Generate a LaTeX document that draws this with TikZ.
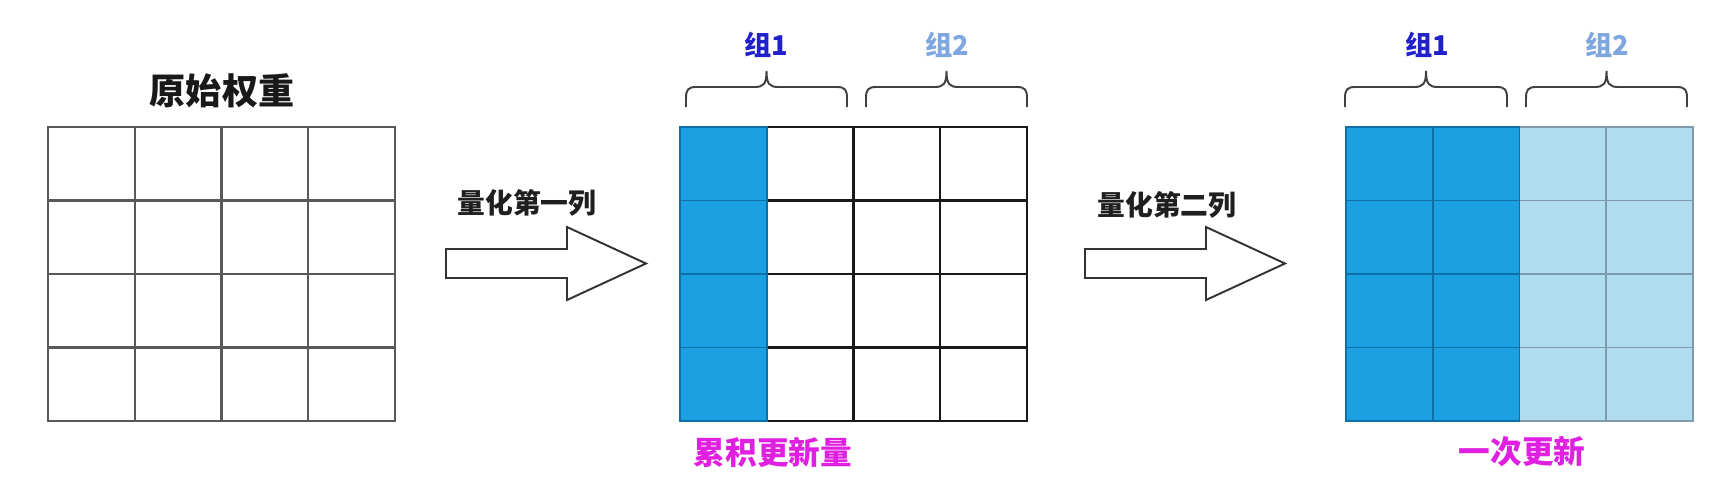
\documentclass[tikz,border=0pt]{standalone}
\usepackage{fontspec}
\setmainfont{Noto Sans CJK SC}
\usetikzlibrary{calc, math}

\definecolor{qblue}{HTML}{1BA1E2}
\definecolor{qbluedraw}{HTML}{0F6FA6}
\definecolor{qlight}{HTML}{B1DDF0}
\definecolor{qlightdraw}{HTML}{7F9AAB}
\definecolor{grponecol}{HTML}{2020CC}
\definecolor{grptwocol}{HTML}{7EA6E0}
\definecolor{notecol}{HTML}{E020E0}

\tikzset{
    cellgray/.style={draw=black!65, line width=1.3pt},
    cellblack/.style={draw=black!90, line width=1.2pt},
    celldone/.style={fill=qblue, draw=qbluedraw, line width=1.1pt},
    celllight/.style={fill=qlight, draw=qlightdraw, line width=1.1pt},
    blockarrow/.style={draw=black!80, line width=1.1pt, fill=white},
    grpbrace/.style={draw=black!75, line width=1.1pt},
    titlelabel/.style={font=\bfseries\fontsize{20.5}{23}\selectfont, text=black!90, inner sep=0pt},
    steplabel/.style={font=\bfseries\fontsize{15.8}{18}\selectfont, text=black!88, inner sep=0pt},
    grplabel/.style={font=\bfseries\fontsize{15.5}{18}\selectfont, inner sep=0pt},
    notelabel/.style={font=\bfseries\fontsize{18}{21}\selectfont, text=notecol, inner sep=0pt}
}

\begin{document}
\begin{tikzpicture}[x=0.02cm, y=-0.02cm]
                \useasboundingbox (0,0) rectangle (1736,488);
                \node[titlelabel] (origTitle) at (222,91) {原始权重};
                \foreach \i in {0,...,3}{
                    \foreach \j in {0,...,3}{
                        \draw[cellgray] (48+86.75*\i,127+73.5*\j) rectangle ++(86.75,73.5);
                    }
                }
                \foreach \i/\s in {1/cellblack,2/cellblack,3/cellblack,0/celldone}{
                    \foreach \j in {0,...,3}{
                        \draw[\s] (680+86.75*\i,127+73.5*\j) rectangle ++(86.75,73.5);
                    }
                }
                \foreach \i/\s in {2/celllight,3/celllight,0/celldone,1/celldone}{
                    \foreach \j in {0,...,3}{
                        \draw[\s] (1346+86.75*\i,127+73.5*\j) rectangle ++(86.75,73.5);
                    }
                }
                \foreach \ax in {446,1085}{
                    \draw[blockarrow] (\ax,249) -- (\ax+121,249) -- (\ax+121,227) -- (\ax+200,263.5)
                        -- (\ax+121,300) -- (\ax+121,278) -- (\ax,278) -- cycle;
                }
                \node[steplabel] (quantFirst) at (527,203) {量化第一列};
                \node[steplabel] (quantSecond) at (1167,205) {量化第二列};
                \foreach \a/\b in {686/847,866/1027,1345/1507,1526/1687}{
                    \pgfmathsetmacro\m{(\a+\b)/2}
                    \draw[grpbrace] (\a,107) -- (\a,98) .. controls (\a,90) and (\a+2,87) .. (\a+10,87)
                        -- (\m-12,87) .. controls (\m-3,87) and (\m,84) .. (\m,71)
                        .. controls (\m,84) and (\m+3,87) .. (\m+12,87)
                        -- (\b-10,87) .. controls (\b-2,87) and (\b,90) .. (\b,98) -- (\b,107);
                }
                \node[grplabel, text=grponecol] (grpOneMid) at (766,45) {组1};
                \node[grplabel, text=grptwocol] (grpTwoMid) at (947,45) {组2};
                \node[grplabel, text=grponecol] (grpOneEnd) at (1427,45) {组1};
                \node[grplabel, text=grptwocol] (grpTwoEnd) at (1607,45) {组2};
                \node[notelabel] (accNote) at (773,452) {累积更新量};
                \node[notelabel] (onceNote) at (1522,452) {一次更新};
            \end{tikzpicture}
\end{document}
